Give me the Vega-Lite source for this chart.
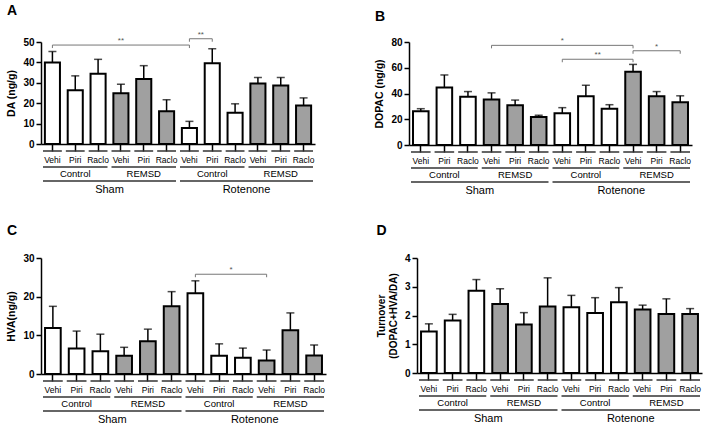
{
"$schema": "https://vega.github.io/schema/vega-lite/v6.json",
"background": "white",
"padding": {"left": 6, "top": 3, "right": 2, "bottom": 2},
"config": {
 "font": "Liberation Sans",
 "view": {"stroke": null},
 "axis": {"grid": false, "domainColor": "black", "tickColor": "black", "labelColor": "black", "titleColor": "black", "labelOverlap": false, "labelBound": false},
 "axisY": {"labelFontSize": 10, "labelFontWeight": "bold", "tickSize": 5, "tickWidth": 1.5, "domainWidth": 1.5, "titleFontSize": 10.5, "titleFontWeight": "bold", "titlePadding": 6, "labelPadding": 2},
 "title": {"anchor": "start", "fontSize": 14, "fontWeight": "bold", "offset": 15, "frame": "bounds", "color": "black"},
 "text": {"color": "black"}
},
"datasets": {
 "bars": [
  {"p":"A","id":"SCV","cond":"Control","trt":"Vehi","mean":39.9,"hi":45.3},
  {"p":"A","id":"SCP","cond":"Control","trt":"Piri","mean":26.4,"hi":33.4},
  {"p":"A","id":"SCR","cond":"Control","trt":"Raclo","mean":34.4,"hi":41.5},
  {"p":"A","id":"SRV","cond":"REMSD","trt":"Vehi","mean":24.9,"hi":29.3},
  {"p":"A","id":"SRP","cond":"REMSD","trt":"Piri","mean":31.9,"hi":38.4},
  {"p":"A","id":"SRR","cond":"REMSD","trt":"Raclo","mean":16.0,"hi":21.7},
  {"p":"A","id":"RCV","cond":"Control","trt":"Vehi","mean":7.8,"hi":11.1},
  {"p":"A","id":"RCP","cond":"Control","trt":"Piri","mean":39.6,"hi":46.7},
  {"p":"A","id":"RCR","cond":"Control","trt":"Raclo","mean":15.3,"hi":19.7},
  {"p":"A","id":"RRV","cond":"REMSD","trt":"Vehi","mean":29.6,"hi":32.6},
  {"p":"A","id":"RRP","cond":"REMSD","trt":"Piri","mean":28.7,"hi":32.6},
  {"p":"A","id":"RRR","cond":"REMSD","trt":"Raclo","mean":18.9,"hi":22.6},
  {"p":"B","id":"SCV","cond":"Control","trt":"Vehi","mean":26.2,"hi":28.2},
  {"p":"B","id":"SCP","cond":"Control","trt":"Piri","mean":44.6,"hi":54.4},
  {"p":"B","id":"SCR","cond":"Control","trt":"Raclo","mean":37.4,"hi":41.5},
  {"p":"B","id":"SRV","cond":"REMSD","trt":"Vehi","mean":35.4,"hi":40.5},
  {"p":"B","id":"SRP","cond":"REMSD","trt":"Piri","mean":30.8,"hi":34.9},
  {"p":"B","id":"SRR","cond":"REMSD","trt":"Raclo","mean":21.8,"hi":23.1},
  {"p":"B","id":"RCV","cond":"Control","trt":"Vehi","mean":24.6,"hi":29.0},
  {"p":"B","id":"RCP","cond":"Control","trt":"Piri","mean":37.9,"hi":46.4},
  {"p":"B","id":"RCR","cond":"Control","trt":"Raclo","mean":28.2,"hi":31.3},
  {"p":"B","id":"RRV","cond":"REMSD","trt":"Vehi","mean":56.9,"hi":62.6},
  {"p":"B","id":"RRP","cond":"REMSD","trt":"Piri","mean":37.9,"hi":41.5},
  {"p":"B","id":"RRR","cond":"REMSD","trt":"Raclo","mean":33.3,"hi":38.2},
  {"p":"C","id":"SCV","cond":"Control","trt":"Vehi","mean":11.9,"hi":17.5},
  {"p":"C","id":"SCP","cond":"Control","trt":"Piri","mean":6.6,"hi":11.1},
  {"p":"C","id":"SCR","cond":"Control","trt":"Raclo","mean":5.9,"hi":10.3},
  {"p":"C","id":"SRV","cond":"REMSD","trt":"Vehi","mean":4.7,"hi":6.9},
  {"p":"C","id":"SRP","cond":"REMSD","trt":"Piri","mean":8.5,"hi":11.6},
  {"p":"C","id":"SRR","cond":"REMSD","trt":"Raclo","mean":17.5,"hi":21.3},
  {"p":"C","id":"RCV","cond":"Control","trt":"Vehi","mean":20.9,"hi":24.1},
  {"p":"C","id":"RCP","cond":"Control","trt":"Piri","mean":4.7,"hi":7.8},
  {"p":"C","id":"RCR","cond":"Control","trt":"Raclo","mean":4.2,"hi":6.7},
  {"p":"C","id":"RRV","cond":"REMSD","trt":"Vehi","mean":3.5,"hi":6.2},
  {"p":"C","id":"RRP","cond":"REMSD","trt":"Piri","mean":11.3,"hi":15.8},
  {"p":"C","id":"RRR","cond":"REMSD","trt":"Raclo","mean":4.8,"hi":7.5},
  {"p":"D","id":"SCV","cond":"Control","trt":"Vehi","mean":1.44,"hi":1.71},
  {"p":"D","id":"SCP","cond":"Control","trt":"Piri","mean":1.83,"hi":2.04},
  {"p":"D","id":"SCR","cond":"Control","trt":"Raclo","mean":2.86,"hi":3.25},
  {"p":"D","id":"SRV","cond":"REMSD","trt":"Vehi","mean":2.40,"hi":2.93},
  {"p":"D","id":"SRP","cond":"REMSD","trt":"Piri","mean":1.69,"hi":2.10},
  {"p":"D","id":"SRR","cond":"REMSD","trt":"Raclo","mean":2.31,"hi":3.31},
  {"p":"D","id":"RCV","cond":"Control","trt":"Vehi","mean":2.29,"hi":2.70},
  {"p":"D","id":"RCP","cond":"Control","trt":"Piri","mean":2.09,"hi":2.62},
  {"p":"D","id":"RCR","cond":"Control","trt":"Raclo","mean":2.46,"hi":2.97},
  {"p":"D","id":"RRV","cond":"REMSD","trt":"Vehi","mean":2.21,"hi":2.36},
  {"p":"D","id":"RRP","cond":"REMSD","trt":"Piri","mean":2.05,"hi":2.58},
  {"p":"D","id":"RRR","cond":"REMSD","trt":"Raclo","mean":2.05,"hi":2.24}
 ],
 "spans": [
  {"level":"cond","label":"Control","first":"SCV","last":"SCR","mid":"SCP"},
  {"level":"cond","label":"REMSD","first":"SRV","last":"SRR","mid":"SRP"},
  {"level":"cond","label":"Control","first":"RCV","last":"RCR","mid":"RCP"},
  {"level":"cond","label":"REMSD","first":"RRV","last":"RRR","mid":"RRP"},
  {"level":"grp","label":"Sham","first":"SCV","last":"SRR","mid":"SRV"},
  {"level":"grp","label":"Rotenone","first":"RCV","last":"RRR","mid":"RRV"}
 ],
 "brk": [
  {"p":"A","from":"SCV","to":"RCV","lev":48.5,"mid":"SRV","pos":"c","stars":"**"},
  {"p":"A","from":"RCV","to":"RCP","lev":51.6,"mid":"RCP","pos":"e","stars":"**"},
  {"p":"B","from":"SRV","to":"RRV","lev":77.4,"mid":"RCV","pos":"c","stars":"*"},
  {"p":"B","from":"RCV","to":"RRV","lev":66.6,"mid":"RCR","pos":"e","stars":"**"},
  {"p":"B","from":"RRV","to":"RRR","lev":73.2,"mid":"RRP","pos":"c","stars":"*"},
  {"p":"C","from":"RCV","to":"RRV","lev":25.8,"mid":"RCR","pos":"e","stars":"*"}
 ]
},
"spacing": 28,
"vconcat": [
 {"hconcat": [
  {"title": {"text": "A", "offset": 13}, "width": 274, "height": 102,
   "layer": [
    {"data": {"name": "bars"}, "transform": [{"filter": "datum.p==='A'"}],
     "layer": [
      {"mark": {"type": "rule", "color": "black", "strokeWidth": 1.5},
       "encoding": {"x": {"field": "id", "type": "nominal", "scale": {"domain": ["SCV","SCP","SCR","SRV","SRP","SRR","RCV","RCP","RCR","RRV","RRP","RRR"], "paddingInner": 0, "paddingOuter": 0}},
        "y": {"field": "mean", "type": "quantitative", "scale": {"domain": [0, 50], "nice": false}, "axis": {"title": "DA (ng/g)", "values": [0, 10, 20, 30, 40, 50], "tickCount": 6}}, "y2": {"field": "hi"}}},
      {"mark": {"type": "bar", "stroke": "black", "strokeWidth": 2, "width": {"band": 0.66}},
       "encoding": {"x": {"field": "id", "type": "nominal", "scale": {"domain": ["SCV","SCP","SCR","SRV","SRP","SRR","RCV","RCP","RCR","RRV","RRP","RRR"], "paddingInner": 0, "paddingOuter": 0}, "axis": {"labels": false, "title": null, "ticks": true, "tickSize": 7, "tickWidth": 1.5, "domainWidth": 1.5}},
        "y": {"field": "mean", "type": "quantitative", "scale": {"domain": [0, 50], "nice": false}, "axis": {"title": "DA (ng/g)", "values": [0, 10, 20, 30, 40, 50], "tickCount": 6}},
        "fill": {"field": "cond", "type": "nominal", "scale": {"domain": ["Control", "REMSD"], "range": ["white", "#a0a0a0"]}, "legend": null}}},
      {"mark": {"type": "tick", "color": "black", "thickness": 1.5, "size": 8},
       "encoding": {"x": {"field": "id", "type": "nominal"}, "y": {"field": "hi", "type": "quantitative", "axis": {"title": "DA (ng/g)", "values": [0, 10, 20, 30, 40, 50], "tickCount": 6}}}},
      {"mark": {"type": "text", "dy": 16, "fontSize": 8.5, "baseline": "middle"},
       "encoding": {"x": {"field": "id", "type": "nominal"}, "y": {"datum": 0, "axis": {"title": "DA (ng/g)", "values": [0, 10, 20, 30, 40, 50], "tickCount": 6}}, "text": {"field": "trt"}}},
      {"mark": {"type": "rule", "yOffset": 7, "xOffset": 2, "x2Offset": -2, "strokeWidth": 1.5, "color": "#333"},
       "encoding": {"x": {"field": "id", "type": "nominal", "bandPosition": 0}, "x2": {"field": "id", "bandPosition": 1}, "y": {"datum": 0, "axis": {"title": "DA (ng/g)", "values": [0, 10, 20, 30, 40, 50], "tickCount": 6}}}}
     ]},
    {"data": {"name": "spans"}, "transform": [{"filter": "datum.level==='cond'"}],
     "layer": [
      {"mark": {"type": "rule", "yOffset": 23, "xOffset": 2, "x2Offset": -2, "strokeWidth": 1.5, "color": "#333"},
       "encoding": {"x": {"field": "first", "type": "nominal", "bandPosition": 0}, "x2": {"field": "last", "bandPosition": 1}, "y": {"datum": 0, "axis": {"title": "DA (ng/g)", "values": [0, 10, 20, 30, 40, 50], "tickCount": 6}}}},
      {"mark": {"type": "text", "dy": 30, "fontSize": 9.5, "baseline": "middle"},
       "encoding": {"x": {"field": "mid", "type": "nominal"}, "y": {"datum": 0, "axis": {"title": "DA (ng/g)", "values": [0, 10, 20, 30, 40, 50], "tickCount": 6}}, "text": {"field": "label"}}}
     ]},
    {"data": {"name": "spans"}, "transform": [{"filter": "datum.level==='grp'"}],
     "layer": [
      {"mark": {"type": "rule", "yOffset": 37, "xOffset": 2, "x2Offset": -2, "strokeWidth": 1.5, "color": "#333"},
       "encoding": {"x": {"field": "first", "type": "nominal", "bandPosition": 0}, "x2": {"field": "last", "bandPosition": 1}, "y": {"datum": 0, "axis": {"title": "DA (ng/g)", "values": [0, 10, 20, 30, 40, 50], "tickCount": 6}}}},
      {"mark": {"type": "text", "dy": 46, "fontSize": 11, "baseline": "middle"},
       "encoding": {"x": {"field": "mid", "type": "nominal", "bandPosition": 0}, "y": {"datum": 0, "axis": {"title": "DA (ng/g)", "values": [0, 10, 20, 30, 40, 50], "tickCount": 6}}, "text": {"field": "label"}}}
     ]},
    {"data": {"name": "brk"}, "transform": [{"filter": "datum.p==='A'"}],
     "layer": [
      {"mark": {"type": "rule", "color": "#777", "strokeWidth": 1},
       "encoding": {"x": {"field": "from", "type": "nominal"}, "x2": {"field": "to"}, "y": {"field": "lev", "type": "quantitative", "axis": {"title": "DA (ng/g)", "values": [0, 10, 20, 30, 40, 50], "tickCount": 6}}}},
      {"mark": {"type": "rule", "color": "#777", "strokeWidth": 1, "y2Offset": 3},
       "encoding": {"x": {"field": "from", "type": "nominal"}, "y": {"field": "lev", "type": "quantitative", "axis": {"title": "DA (ng/g)", "values": [0, 10, 20, 30, 40, 50], "tickCount": 6}}, "y2": {"field": "lev"}}},
      {"mark": {"type": "rule", "color": "#777", "strokeWidth": 1, "y2Offset": 3},
       "encoding": {"x": {"field": "to", "type": "nominal"}, "y": {"field": "lev", "type": "quantitative", "axis": {"title": "DA (ng/g)", "values": [0, 10, 20, 30, 40, 50], "tickCount": 6}}, "y2": {"field": "lev"}}},
      {"transform": [{"filter": "datum.pos==='c'"}], "mark": {"type": "text", "dy": -4, "fontSize": 8, "color": "#555"},
       "encoding": {"x": {"field": "mid", "type": "nominal"}, "y": {"field": "lev", "type": "quantitative", "axis": {"title": "DA (ng/g)", "values": [0, 10, 20, 30, 40, 50], "tickCount": 6}}, "text": {"field": "stars"}}},
      {"transform": [{"filter": "datum.pos==='e'"}], "mark": {"type": "text", "dy": -4, "fontSize": 8, "color": "#555"},
       "encoding": {"x": {"field": "mid", "type": "nominal", "bandPosition": 0}, "y": {"field": "lev", "type": "quantitative", "axis": {"title": "DA (ng/g)", "values": [0, 10, 20, 30, 40, 50], "tickCount": 6}}, "text": {"field": "stars"}}}
     ]}
   ]},
  {"title": {"text": "B", "offset": 13}, "width": 283, "height": 103,
   "layer": [
    {"data": {"name": "bars"}, "transform": [{"filter": "datum.p==='B'"}],
     "layer": [
      {"mark": {"type": "rule", "color": "black", "strokeWidth": 1.5},
       "encoding": {"x": {"field": "id", "type": "nominal", "scale": {"domain": ["SCV","SCP","SCR","SRV","SRP","SRR","RCV","RCP","RCR","RRV","RRP","RRR"], "paddingInner": 0, "paddingOuter": 0}},
        "y": {"field": "mean", "type": "quantitative", "scale": {"domain": [0, 80], "nice": false}, "axis": {"title": "DOPAC (ng/g)", "values": [0, 20, 40, 60, 80], "tickCount": 5}}, "y2": {"field": "hi"}}},
      {"mark": {"type": "bar", "stroke": "black", "strokeWidth": 2, "width": {"band": 0.66}},
       "encoding": {"x": {"field": "id", "type": "nominal", "scale": {"domain": ["SCV","SCP","SCR","SRV","SRP","SRR","RCV","RCP","RCR","RRV","RRP","RRR"], "paddingInner": 0, "paddingOuter": 0}, "axis": {"labels": false, "title": null, "ticks": true, "tickSize": 7, "tickWidth": 1.5, "domainWidth": 1.5}},
        "y": {"field": "mean", "type": "quantitative", "scale": {"domain": [0, 80], "nice": false}, "axis": {"title": "DOPAC (ng/g)", "values": [0, 20, 40, 60, 80], "tickCount": 5}},
        "fill": {"field": "cond", "type": "nominal", "scale": {"domain": ["Control", "REMSD"], "range": ["white", "#a0a0a0"]}, "legend": null}}},
      {"mark": {"type": "tick", "color": "black", "thickness": 1.5, "size": 8},
       "encoding": {"x": {"field": "id", "type": "nominal"}, "y": {"field": "hi", "type": "quantitative", "axis": {"title": "DOPAC (ng/g)", "values": [0, 20, 40, 60, 80], "tickCount": 5}}}},
      {"mark": {"type": "text", "dy": 16, "fontSize": 8.5, "baseline": "middle"},
       "encoding": {"x": {"field": "id", "type": "nominal"}, "y": {"datum": 0, "axis": {"title": "DOPAC (ng/g)", "values": [0, 20, 40, 60, 80], "tickCount": 5}}, "text": {"field": "trt"}}},
      {"mark": {"type": "rule", "yOffset": 7, "xOffset": 2, "x2Offset": -2, "strokeWidth": 1.5, "color": "#333"},
       "encoding": {"x": {"field": "id", "type": "nominal", "bandPosition": 0}, "x2": {"field": "id", "bandPosition": 1}, "y": {"datum": 0, "axis": {"title": "DOPAC (ng/g)", "values": [0, 20, 40, 60, 80], "tickCount": 5}}}}
     ]},
    {"data": {"name": "spans"}, "transform": [{"filter": "datum.level==='cond'"}],
     "layer": [
      {"mark": {"type": "rule", "yOffset": 23, "xOffset": 2, "x2Offset": -2, "strokeWidth": 1.5, "color": "#333"},
       "encoding": {"x": {"field": "first", "type": "nominal", "bandPosition": 0}, "x2": {"field": "last", "bandPosition": 1}, "y": {"datum": 0, "axis": {"title": "DOPAC (ng/g)", "values": [0, 20, 40, 60, 80], "tickCount": 5}}}},
      {"mark": {"type": "text", "dy": 30, "fontSize": 9.5, "baseline": "middle"},
       "encoding": {"x": {"field": "mid", "type": "nominal"}, "y": {"datum": 0, "axis": {"title": "DOPAC (ng/g)", "values": [0, 20, 40, 60, 80], "tickCount": 5}}, "text": {"field": "label"}}}
     ]},
    {"data": {"name": "spans"}, "transform": [{"filter": "datum.level==='grp'"}],
     "layer": [
      {"mark": {"type": "rule", "yOffset": 37, "xOffset": 2, "x2Offset": -2, "strokeWidth": 1.5, "color": "#333"},
       "encoding": {"x": {"field": "first", "type": "nominal", "bandPosition": 0}, "x2": {"field": "last", "bandPosition": 1}, "y": {"datum": 0, "axis": {"title": "DOPAC (ng/g)", "values": [0, 20, 40, 60, 80], "tickCount": 5}}}},
      {"mark": {"type": "text", "dy": 46, "fontSize": 11, "baseline": "middle"},
       "encoding": {"x": {"field": "mid", "type": "nominal", "bandPosition": 0}, "y": {"datum": 0, "axis": {"title": "DOPAC (ng/g)", "values": [0, 20, 40, 60, 80], "tickCount": 5}}, "text": {"field": "label"}}}
     ]},
    {"data": {"name": "brk"}, "transform": [{"filter": "datum.p==='B'"}],
     "layer": [
      {"mark": {"type": "rule", "color": "#777", "strokeWidth": 1},
       "encoding": {"x": {"field": "from", "type": "nominal"}, "x2": {"field": "to"}, "y": {"field": "lev", "type": "quantitative", "axis": {"title": "DOPAC (ng/g)", "values": [0, 20, 40, 60, 80], "tickCount": 5}}}},
      {"mark": {"type": "rule", "color": "#777", "strokeWidth": 1, "y2Offset": 3},
       "encoding": {"x": {"field": "from", "type": "nominal"}, "y": {"field": "lev", "type": "quantitative", "axis": {"title": "DOPAC (ng/g)", "values": [0, 20, 40, 60, 80], "tickCount": 5}}, "y2": {"field": "lev"}}},
      {"mark": {"type": "rule", "color": "#777", "strokeWidth": 1, "y2Offset": 3},
       "encoding": {"x": {"field": "to", "type": "nominal"}, "y": {"field": "lev", "type": "quantitative", "axis": {"title": "DOPAC (ng/g)", "values": [0, 20, 40, 60, 80], "tickCount": 5}}, "y2": {"field": "lev"}}},
      {"transform": [{"filter": "datum.pos==='c'"}], "mark": {"type": "text", "dy": -4, "fontSize": 8, "color": "#555"},
       "encoding": {"x": {"field": "mid", "type": "nominal"}, "y": {"field": "lev", "type": "quantitative", "axis": {"title": "DOPAC (ng/g)", "values": [0, 20, 40, 60, 80], "tickCount": 5}}, "text": {"field": "stars"}}},
      {"transform": [{"filter": "datum.pos==='e'"}], "mark": {"type": "text", "dy": -4, "fontSize": 8, "color": "#555"},
       "encoding": {"x": {"field": "mid", "type": "nominal", "bandPosition": 0}, "y": {"field": "lev", "type": "quantitative", "axis": {"title": "DOPAC (ng/g)", "values": [0, 20, 40, 60, 80], "tickCount": 5}}, "text": {"field": "stars"}}}
     ]}
   ]}
 ], "spacing": 59},
 {"hconcat": [
  {"title": {"text": "C"}, "width": 285, "height": 116,
   "layer": [
    {"data": {"name": "bars"}, "transform": [{"filter": "datum.p==='C'"}],
     "layer": [
      {"mark": {"type": "rule", "color": "black", "strokeWidth": 1.5},
       "encoding": {"x": {"field": "id", "type": "nominal", "scale": {"domain": ["SCV","SCP","SCR","SRV","SRP","SRR","RCV","RCP","RCR","RRV","RRP","RRR"], "paddingInner": 0, "paddingOuter": 0}},
        "y": {"field": "mean", "type": "quantitative", "scale": {"domain": [0, 30], "nice": false}, "axis": {"title": "HVA(ng/g)", "values": [0, 10, 20, 30], "tickCount": 4}}, "y2": {"field": "hi"}}},
      {"mark": {"type": "bar", "stroke": "black", "strokeWidth": 2, "width": {"band": 0.66}},
       "encoding": {"x": {"field": "id", "type": "nominal", "scale": {"domain": ["SCV","SCP","SCR","SRV","SRP","SRR","RCV","RCP","RCR","RRV","RRP","RRR"], "paddingInner": 0, "paddingOuter": 0}, "axis": {"labels": false, "title": null, "ticks": true, "tickSize": 7, "tickWidth": 1.5, "domainWidth": 1.5}},
        "y": {"field": "mean", "type": "quantitative", "scale": {"domain": [0, 30], "nice": false}, "axis": {"title": "HVA(ng/g)", "values": [0, 10, 20, 30], "tickCount": 4}},
        "fill": {"field": "cond", "type": "nominal", "scale": {"domain": ["Control", "REMSD"], "range": ["white", "#a0a0a0"]}, "legend": null}}},
      {"mark": {"type": "tick", "color": "black", "thickness": 1.5, "size": 8},
       "encoding": {"x": {"field": "id", "type": "nominal"}, "y": {"field": "hi", "type": "quantitative", "axis": {"title": "HVA(ng/g)", "values": [0, 10, 20, 30], "tickCount": 4}}}},
      {"mark": {"type": "text", "dy": 16, "fontSize": 8.5, "baseline": "middle"},
       "encoding": {"x": {"field": "id", "type": "nominal"}, "y": {"datum": 0, "axis": {"title": "HVA(ng/g)", "values": [0, 10, 20, 30], "tickCount": 4}}, "text": {"field": "trt"}}},
      {"mark": {"type": "rule", "yOffset": 7, "xOffset": 2, "x2Offset": -2, "strokeWidth": 1.5, "color": "#333"},
       "encoding": {"x": {"field": "id", "type": "nominal", "bandPosition": 0}, "x2": {"field": "id", "bandPosition": 1}, "y": {"datum": 0, "axis": {"title": "HVA(ng/g)", "values": [0, 10, 20, 30], "tickCount": 4}}}}
     ]},
    {"data": {"name": "spans"}, "transform": [{"filter": "datum.level==='cond'"}],
     "layer": [
      {"mark": {"type": "rule", "yOffset": 23, "xOffset": 2, "x2Offset": -2, "strokeWidth": 1.5, "color": "#333"},
       "encoding": {"x": {"field": "first", "type": "nominal", "bandPosition": 0}, "x2": {"field": "last", "bandPosition": 1}, "y": {"datum": 0, "axis": {"title": "HVA(ng/g)", "values": [0, 10, 20, 30], "tickCount": 4}}}},
      {"mark": {"type": "text", "dy": 30, "fontSize": 9.5, "baseline": "middle"},
       "encoding": {"x": {"field": "mid", "type": "nominal"}, "y": {"datum": 0, "axis": {"title": "HVA(ng/g)", "values": [0, 10, 20, 30], "tickCount": 4}}, "text": {"field": "label"}}}
     ]},
    {"data": {"name": "spans"}, "transform": [{"filter": "datum.level==='grp'"}],
     "layer": [
      {"mark": {"type": "rule", "yOffset": 37, "xOffset": 2, "x2Offset": -2, "strokeWidth": 1.5, "color": "#333"},
       "encoding": {"x": {"field": "first", "type": "nominal", "bandPosition": 0}, "x2": {"field": "last", "bandPosition": 1}, "y": {"datum": 0, "axis": {"title": "HVA(ng/g)", "values": [0, 10, 20, 30], "tickCount": 4}}}},
      {"mark": {"type": "text", "dy": 46, "fontSize": 11, "baseline": "middle"},
       "encoding": {"x": {"field": "mid", "type": "nominal", "bandPosition": 0}, "y": {"datum": 0, "axis": {"title": "HVA(ng/g)", "values": [0, 10, 20, 30], "tickCount": 4}}, "text": {"field": "label"}}}
     ]},
    {"data": {"name": "brk"}, "transform": [{"filter": "datum.p==='C'"}],
     "layer": [
      {"mark": {"type": "rule", "color": "#777", "strokeWidth": 1},
       "encoding": {"x": {"field": "from", "type": "nominal"}, "x2": {"field": "to"}, "y": {"field": "lev", "type": "quantitative", "axis": {"title": "HVA(ng/g)", "values": [0, 10, 20, 30], "tickCount": 4}}}},
      {"mark": {"type": "rule", "color": "#777", "strokeWidth": 1, "y2Offset": 3},
       "encoding": {"x": {"field": "from", "type": "nominal"}, "y": {"field": "lev", "type": "quantitative", "axis": {"title": "HVA(ng/g)", "values": [0, 10, 20, 30], "tickCount": 4}}, "y2": {"field": "lev"}}},
      {"mark": {"type": "rule", "color": "#777", "strokeWidth": 1, "y2Offset": 3},
       "encoding": {"x": {"field": "to", "type": "nominal"}, "y": {"field": "lev", "type": "quantitative", "axis": {"title": "HVA(ng/g)", "values": [0, 10, 20, 30], "tickCount": 4}}, "y2": {"field": "lev"}}},
      {"mark": {"type": "text", "dy": -4, "fontSize": 8, "color": "#555"},
       "encoding": {"x": {"field": "mid", "type": "nominal", "bandPosition": 0}, "y": {"field": "lev", "type": "quantitative", "axis": {"title": "HVA(ng/g)", "values": [0, 10, 20, 30], "tickCount": 4}}, "text": {"field": "stars"}}}
     ]}
   ]},
  {"title": {"text": "D"}, "width": 285, "height": 115,
   "layer": [
    {"data": {"name": "bars"}, "transform": [{"filter": "datum.p==='D'"}],
     "layer": [
      {"mark": {"type": "rule", "color": "black", "strokeWidth": 1.5},
       "encoding": {"x": {"field": "id", "type": "nominal", "scale": {"domain": ["SCV","SCP","SCR","SRV","SRP","SRR","RCV","RCP","RCR","RRV","RRP","RRR"], "paddingInner": 0, "paddingOuter": 0}},
        "y": {"field": "mean", "type": "quantitative", "scale": {"domain": [0, 4], "nice": false}, "axis": {"title": ["Turnover", "(DOPAC+HVA/DA)"], "titleFontSize": 10, "titleLineHeight": 12, "values": [0, 1, 2, 3, 4], "tickCount": 5}}, "y2": {"field": "hi"}}},
      {"mark": {"type": "bar", "stroke": "black", "strokeWidth": 2, "width": {"band": 0.66}},
       "encoding": {"x": {"field": "id", "type": "nominal", "scale": {"domain": ["SCV","SCP","SCR","SRV","SRP","SRR","RCV","RCP","RCR","RRV","RRP","RRR"], "paddingInner": 0, "paddingOuter": 0}, "axis": {"labels": false, "title": null, "ticks": true, "tickSize": 7, "tickWidth": 1.5, "domainWidth": 1.5}},
        "y": {"field": "mean", "type": "quantitative", "scale": {"domain": [0, 4], "nice": false}, "axis": {"title": ["Turnover", "(DOPAC+HVA/DA)"], "titleFontSize": 10, "titleLineHeight": 12, "values": [0, 1, 2, 3, 4], "tickCount": 5}},
        "fill": {"field": "cond", "type": "nominal", "scale": {"domain": ["Control", "REMSD"], "range": ["white", "#a0a0a0"]}, "legend": null}}},
      {"mark": {"type": "tick", "color": "black", "thickness": 1.5, "size": 8},
       "encoding": {"x": {"field": "id", "type": "nominal"}, "y": {"field": "hi", "type": "quantitative", "axis": {"title": ["Turnover", "(DOPAC+HVA/DA)"], "titleFontSize": 10, "titleLineHeight": 12, "values": [0, 1, 2, 3, 4], "tickCount": 5}}}},
      {"mark": {"type": "text", "dy": 16, "fontSize": 8.5, "baseline": "middle"},
       "encoding": {"x": {"field": "id", "type": "nominal"}, "y": {"datum": 0, "axis": {"title": ["Turnover", "(DOPAC+HVA/DA)"], "titleFontSize": 10, "titleLineHeight": 12, "values": [0, 1, 2, 3, 4], "tickCount": 5}}, "text": {"field": "trt"}}},
      {"mark": {"type": "rule", "yOffset": 7, "xOffset": 2, "x2Offset": -2, "strokeWidth": 1.5, "color": "#333"},
       "encoding": {"x": {"field": "id", "type": "nominal", "bandPosition": 0}, "x2": {"field": "id", "bandPosition": 1}, "y": {"datum": 0, "axis": {"title": ["Turnover", "(DOPAC+HVA/DA)"], "titleFontSize": 10, "titleLineHeight": 12, "values": [0, 1, 2, 3, 4], "tickCount": 5}}}}
     ]},
    {"data": {"name": "spans"}, "transform": [{"filter": "datum.level==='cond'"}],
     "layer": [
      {"mark": {"type": "rule", "yOffset": 23, "xOffset": 2, "x2Offset": -2, "strokeWidth": 1.5, "color": "#333"},
       "encoding": {"x": {"field": "first", "type": "nominal", "bandPosition": 0}, "x2": {"field": "last", "bandPosition": 1}, "y": {"datum": 0, "axis": {"title": ["Turnover", "(DOPAC+HVA/DA)"], "titleFontSize": 10, "titleLineHeight": 12, "values": [0, 1, 2, 3, 4], "tickCount": 5}}}},
      {"mark": {"type": "text", "dy": 30, "fontSize": 9.5, "baseline": "middle"},
       "encoding": {"x": {"field": "mid", "type": "nominal"}, "y": {"datum": 0, "axis": {"title": ["Turnover", "(DOPAC+HVA/DA)"], "titleFontSize": 10, "titleLineHeight": 12, "values": [0, 1, 2, 3, 4], "tickCount": 5}}, "text": {"field": "label"}}}
     ]},
    {"data": {"name": "spans"}, "transform": [{"filter": "datum.level==='grp'"}],
     "layer": [
      {"mark": {"type": "rule", "yOffset": 37, "xOffset": 2, "x2Offset": -2, "strokeWidth": 1.5, "color": "#333"},
       "encoding": {"x": {"field": "first", "type": "nominal", "bandPosition": 0}, "x2": {"field": "last", "bandPosition": 1}, "y": {"datum": 0, "axis": {"title": ["Turnover", "(DOPAC+HVA/DA)"], "titleFontSize": 10, "titleLineHeight": 12, "values": [0, 1, 2, 3, 4], "tickCount": 5}}}},
      {"mark": {"type": "text", "dy": 46, "fontSize": 11, "baseline": "middle"},
       "encoding": {"x": {"field": "mid", "type": "nominal", "bandPosition": 0}, "y": {"datum": 0, "axis": {"title": ["Turnover", "(DOPAC+HVA/DA)"], "titleFontSize": 10, "titleLineHeight": 12, "values": [0, 1, 2, 3, 4], "tickCount": 5}}, "text": {"field": "label"}}}
     ]}
   ]}
 ], "spacing": 50}
]
}
